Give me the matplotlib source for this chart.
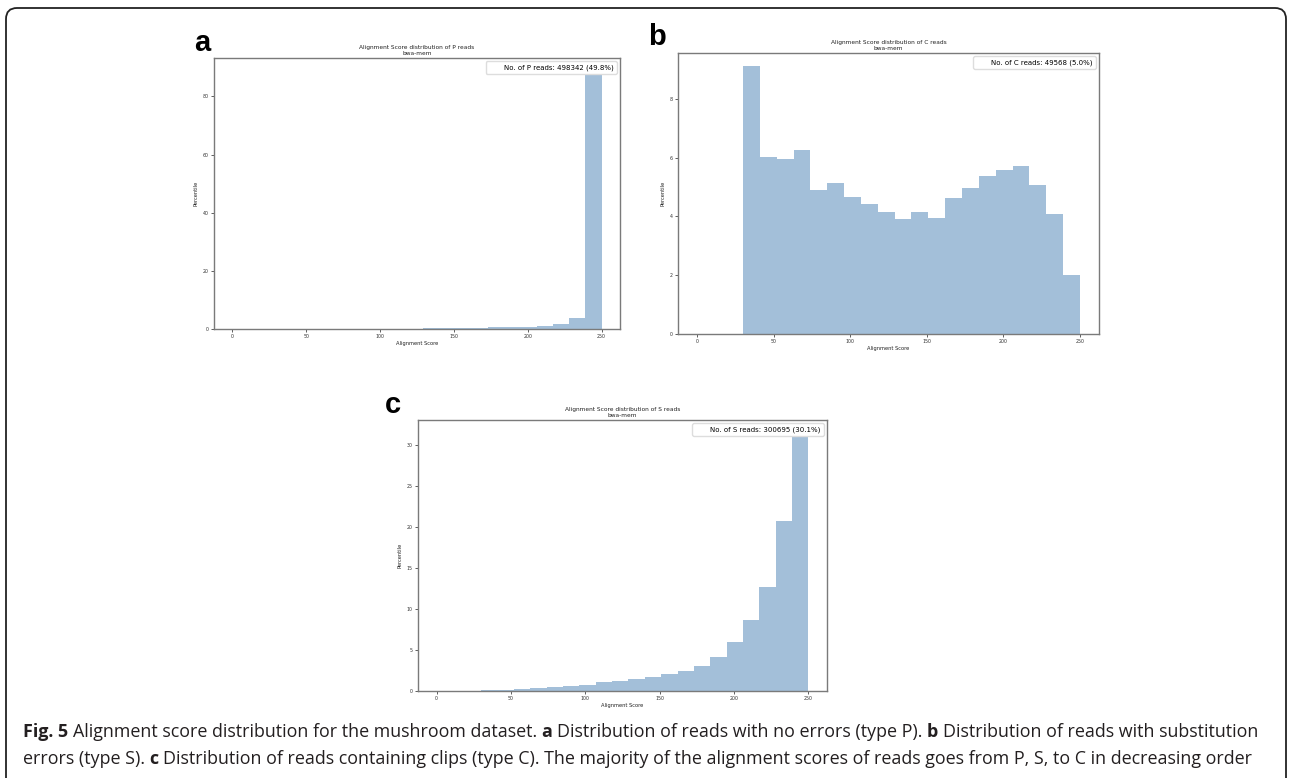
import numpy as np
import matplotlib
matplotlib.use('Agg')
import matplotlib.pyplot as plt
from matplotlib.patches import FancyBboxPatch, Patch
from matplotlib.transforms import IdentityTransform

# ---------------- data ----------------
bin_edges = [30, 41, 52, 63, 74, 85, 96, 107, 118, 129, 140,
             151, 162, 173, 184, 195, 206, 217, 228, 239, 250]

p_percent = [0.01, 0.02, 0.03, 0.04, 0.05, 0.06, 0.08, 0.10, 0.15, 0.20,
             0.25, 0.30, 0.40, 0.55, 0.70, 0.85, 1.20, 1.75, 3.90, 88.8]

c_percent = [9.10, 6.02, 5.96, 6.27, 4.90, 5.13, 4.66, 4.42, 4.16, 3.92,
             4.16, 3.94, 4.61, 4.97, 5.36, 5.58, 5.72, 5.08, 4.07, 2.02]

s_percent = [0.08, 0.12, 0.24, 0.37, 0.49, 0.65, 0.77, 1.06, 1.26, 1.50,
             1.75, 2.03, 2.44, 3.09, 4.19, 6.02, 8.70, 12.68, 20.77, 31.5]

titles = ["Alignment Score distribution of P reads\nbwa-mem",
          "Alignment Score distribution of C reads\nbwa-mem",
          "Alignment Score distribution of S reads\nbwa-mem"]
legend_labels = ["No. of P reads: 498342 (49.8%)",
                 "No. of C reads: 49568 (5.0%)",
                 "No. of S reads: 300695 (30.1%)"]
panel_letters = ["a", "b", "c"]
x_label = "Alignment Score"
y_label = "Percentile"

caption_line1 = [("Fig. 5", True), ("Alignment score distribution for the mushroom dataset.", False),
                 ("a", True), ("Distribution of reads with no errors (type P).", False),
                 ("b", True), ("Distribution of reads with substitution", False)]
caption_line2 = [("errors (type S).", False), ("c", True),
                 ("Distribution of reads containing clips (type C). The majority of the alignment scores of reads goes from P, S, to C in decreasing order", False)]

# ---------------- figure ----------------
W, H = 1289, 778
fig = plt.figure(figsize=(W / 100, H / 100), dpi=100)
fig.patch.set_facecolor('white')

BAR = '#a3bfd9'


def px_axes(l, t, r, b):
    return fig.add_axes([l / W, 1 - b / H, (r - l) / W, (b - t) / H])


def panel(rect, values, title, label):
    ax = px_axes(*rect)
    edges = np.array(bin_edges, dtype=float)
    ax.bar(edges[:-1], values, width=np.diff(edges), align='edge',
           color=BAR, linewidth=0)
    ax.set_xlim(-12.5, 262.5)
    ax.set_xticks([0, 50, 100, 150, 200, 250])
    ax.set_title(title, fontsize=4.2, pad=2.0, linespacing=1.25, color='#222')
    ax.set_xlabel(x_label, fontsize=3.7, labelpad=1.5, color='#222')
    ax.set_ylabel(y_label, fontsize=3.7, labelpad=3, color='#222')
    ax.tick_params(labelsize=3.4, length=2.2, width=0.6, pad=1.5,
                   color='#444', labelcolor='#333')
    for s in ax.spines.values():
        s.set_color('#7a7a7a')
        s.set_linewidth(1.0)
    ax.legend(handles=[Patch(facecolor='none', edgecolor='none')], labels=[label],
              loc='upper right', fontsize=5.0, framealpha=1, fancybox=True,
              handlelength=1.4, borderaxespad=0.5, edgecolor='#dddddd')
    return ax


panel((214, 58, 620, 329), p_percent, titles[0], legend_labels[0])
panel((678, 53, 1099, 334), c_percent, titles[1], legend_labels[1])
panel((418, 420, 827, 691), s_percent, titles[2], legend_labels[2])

# panel letters
for letter, (x, y) in zip(panel_letters, [(194, 51), (648, 45), (385, 413)]):
    fig.text(x / W, 1 - y / H, letter, fontsize=21, fontweight='bold',
             family='Liberation Sans', va='baseline', ha='left')

# border
border = FancyBboxPatch((6, -30), 1280, H - 8 + 30,
                        boxstyle='round,pad=0,rounding_size=11',
                        transform=IdentityTransform(), fill=False,
                        lw=1.3, ec='#222222')
fig.patches.append(border)

# caption
renderer = fig.canvas.get_renderer()
CAP_FONT = 'Open Sans'


def measure(parts, size):
    total = 0
    for txt, bold in parts:
        t = fig.text(0, 0, txt, fontsize=size, family=CAP_FONT,
                     fontweight='bold' if bold else 'normal')
        total += t.get_window_extent(renderer).width
        t.remove()
    t1 = fig.text(0, 0, "x x", fontsize=size, family=CAP_FONT)
    t2 = fig.text(0, 0, "xx", fontsize=size, family=CAP_FONT)
    sp = t1.get_window_extent(renderer).width - t2.get_window_extent(renderer).width
    t1.remove(); t2.remove()
    return total + sp * (len(parts) - 1), sp


def rich_line(x, y, parts, size):
    _, sp = measure(parts, size)
    for txt, bold in parts:
        t = fig.text(x / W, 1 - y / H, txt, fontsize=size, family=CAP_FONT,
                     fontweight='bold' if bold else 'normal', va='baseline',
                     ha='left', color='#231f20')
        x += t.get_window_extent(renderer).width + sp


w10, _ = measure(caption_line1, 10)
cap_size = 10 * (1262 - 23) / w10
rich_line(23, 737, caption_line1, cap_size)
rich_line(23, 764, caption_line2, cap_size)

fig.savefig('out.png', dpi=100)
